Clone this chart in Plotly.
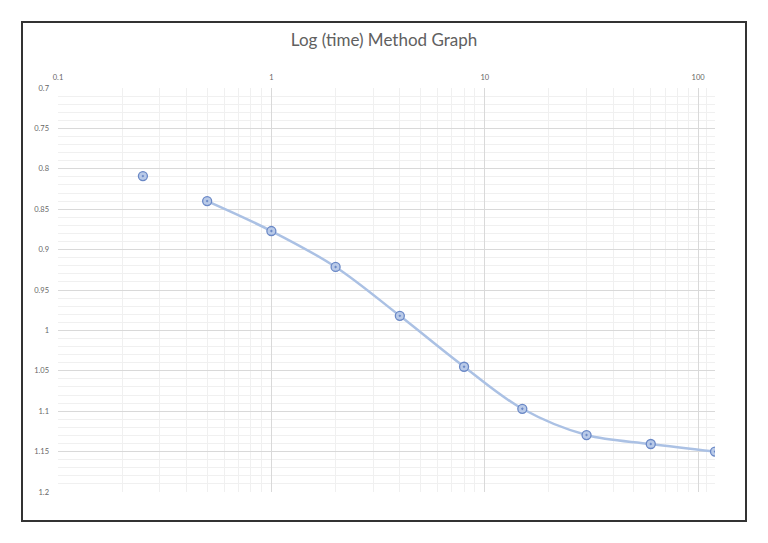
import plotly.graph_objects as go
import numpy as np

times = [0.25, 0.5, 1, 2, 4, 8, 15, 30, 60, 120]
readings = [0.809, 0.840, 0.877, 0.9215, 0.982, 1.045, 1.097, 1.1295, 1.1406, 1.150]
x_tick_vals = [0.1, 1, 10, 100]
x_tick_text = ["0.1", "1", "10", "100"]
y_tick_vals = [0.7, 0.75, 0.8, 0.85, 0.9, 0.95, 1, 1.05, 1.1, 1.15, 1.2]
y_tick_text = ["0.7", "0.75", "0.8", "0.85", "0.9", "0.95", "1", "1.05", "1.1", "1.15", "1.2"]

OFF = 8  # page body margin
W, H = 768 - OFF, 543 - OFF
L, T = 58 - OFF, 88 - OFF
R, B = 768 - 715, 543 - 492
pw, ph = W - L - R, H - T - B

fig = go.Figure()
fig.add_trace(go.Scatter(
    x=times[1:], y=readings[1:], mode="lines",
    line=dict(color="#ABC1E4", width=2.5, shape="spline", smoothing=1.0),
    hoverinfo="skip", showlegend=False))
fig.add_trace(go.Scatter(
    x=times, y=readings, mode="markers",
    marker=dict(symbol="circle-dot", size=9, color="#B9CAE8",
                line=dict(width=1.3, color="#6A88C6")),
    showlegend=False))

# frame
fx0 = (22 - 58) / pw
fx1 = (746 - 58) / pw
fy0 = (492 - 521) / ph
fy1 = (492 - 22) / ph
fig.add_shape(type="rect", xref="paper", yref="paper",
              x0=fx0, x1=fx1, y0=fy0, y1=fy1,
              line=dict(color="#333333", width=2), layer="below")

fig.update_layout(
    width=W, height=H,
    margin=dict(l=L, r=R, t=T, b=B),
    paper_bgcolor="white", plot_bgcolor="white",
    font=dict(family="Lato, Open Sans, sans-serif", color="#595959"),
    title=dict(text="Log (time) Method Graph", x=(384 - OFF) / W, xanchor="center",
               y=1 - (40 - OFF) / H, yanchor="middle",
               font=dict(size=17, color="#606060")),
    xaxis=dict(type="log", range=[np.log10(0.1), np.log10(120)],
               side="top", tickvals=x_tick_vals, ticktext=x_tick_text,
               tickfont=dict(size=7.5, color="#666666"),
               showgrid=True, gridcolor="#D9D9D9", gridwidth=1,
               minor=dict(showgrid=True, gridcolor="#F0F0F0", gridwidth=1,
                          tickvals=[m * d for d in [0.1, 1, 10] for m in range(2, 10)] + [110, 120]),
               showline=False, zeroline=False, ticks="", ticklabelstandoff=6),
    yaxis=dict(range=[1.2, 0.7], tickvals=y_tick_vals, ticktext=y_tick_text,
               tickfont=dict(size=7.5, color="#666666"),
               showgrid=True, gridcolor="#D9D9D9", gridwidth=1,
               minor=dict(showgrid=True, gridcolor="#F0F0F0", gridwidth=1, dtick=0.01),
               showline=False, zeroline=False, ticks="", ticklabelstandoff=8),
)

fig.write_html("out.html")
